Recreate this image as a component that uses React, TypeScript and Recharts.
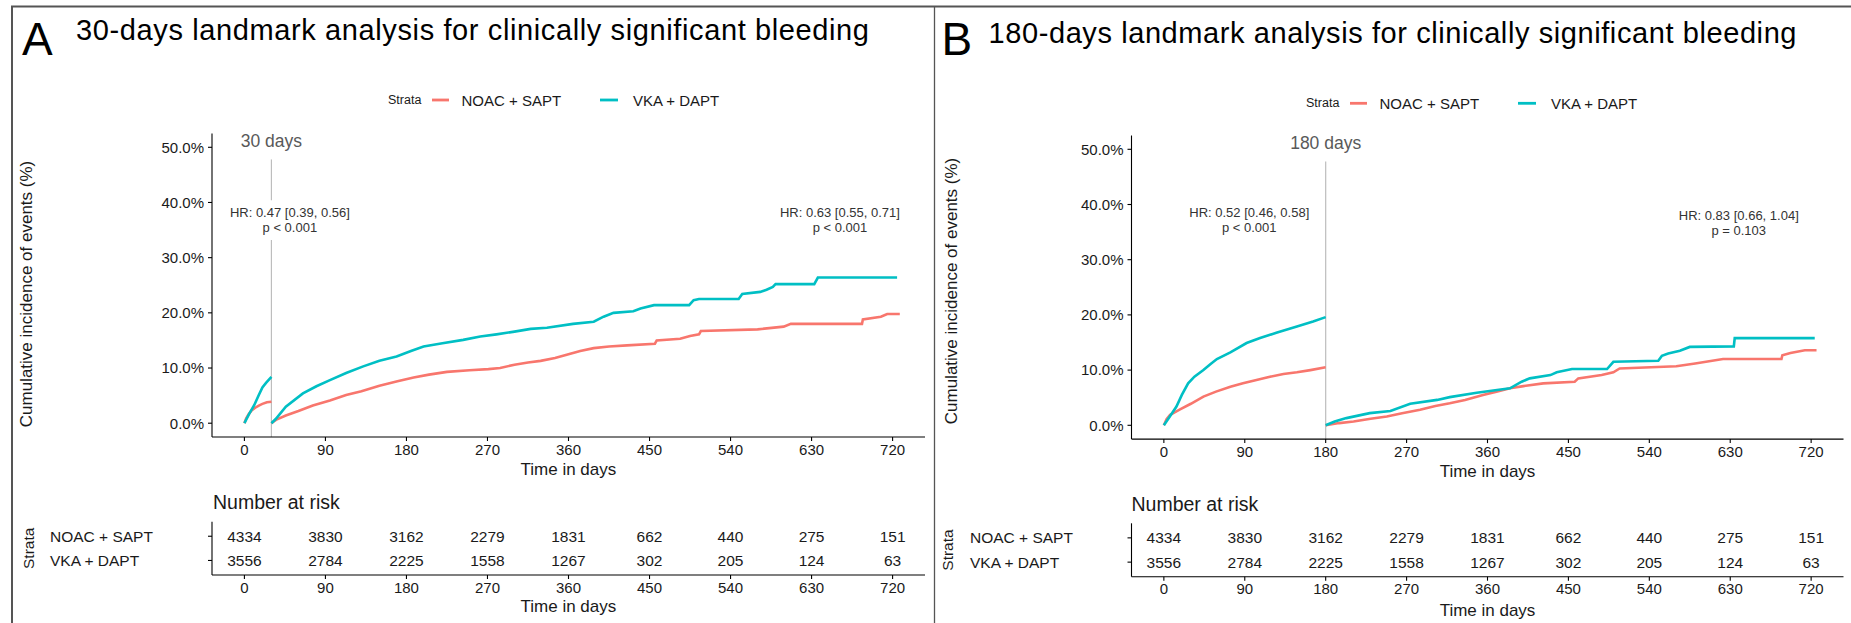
import React from "react";
import {
  LineChart,
  Line,
  XAxis,
  YAxis,
  ReferenceLine,
  ReferenceDot,
  ScatterChart,
  Scatter,
} from "recharts";

const FONT = '"Liberation Sans", Arial, Helvetica, sans-serif';
const RED = "#F8766D";
const CYAN = "#00BFC4";
const INK = "#1a1a1a";

const timeTicks = [0, 90, 180, 270, 360, 450, 540, 630, 720];
const pctTicks = [0, 10, 20, 30, 40, 50];
const strata = ["NOAC + SAPT", "VKA + DAPT"];

// number at risk (same table under both panels)
const riskNoac = [4334, 3830, 3162, 2279, 1831, 662, 440, 275, 151];
const riskVka = [3556, 2784, 2225, 1558, 1267, 302, 205, 124, 63];

// panel A: 30-day landmark, [day, cumulative incidence %]
const aNoacPre = [[0, 0], [2, 0.9], [5, 1.7], [8, 2.3], [12, 2.8], [16, 3.2], [20, 3.5], [25, 3.8], [30, 3.9]];
const aVkaPre = [[0, 0], [5, 1.6], [11, 3.3], [16, 5.1], [20, 6.5], [24, 7.3], [30, 8.4]];
const aNoacPost = [
  [30, 0], [35, 0.6], [46, 1.4], [60, 2.2], [76, 3.2], [95, 4.1], [113, 5.1], [130, 5.8], [150, 6.8],
  [170, 7.6], [188, 8.3], [205, 8.8], [225, 9.3], [250, 9.6], [271, 9.8], [284, 10.0], [300, 10.6],
  [315, 11.0], [329, 11.3], [345, 11.8], [358, 12.4], [373, 13.1], [388, 13.6], [405, 13.9], [425, 14.1],
  [456, 14.4], [458, 15.0], [484, 15.3], [495, 15.8], [505, 16.1], [507, 16.7], [570, 17.0], [599, 17.5],
  [607, 18.0], [686, 18.0], [687, 18.8], [707, 19.3], [714, 19.8], [728, 19.8],
];
const aVkaPost = [
  [30, 0], [35, 0.8], [46, 3.0], [65, 5.4], [80, 6.7], [95, 7.8], [113, 9.1], [132, 10.3], [150, 11.3],
  [169, 12.1], [185, 13.1], [199, 13.9], [220, 14.5], [243, 15.1], [262, 15.7], [280, 16.1], [300, 16.6],
  [318, 17.1], [336, 17.3], [365, 18.0], [388, 18.4], [399, 19.3], [410, 20.0], [432, 20.3], [440, 20.8],
  [455, 21.4], [494, 21.4], [499, 22.3], [505, 22.5], [549, 22.5], [553, 23.4], [573, 23.8], [580, 24.2],
  [587, 24.7], [590, 25.2], [633, 25.2], [637, 26.4], [725, 26.4],
];

// panel B: 180-day landmark
const bNoacPre = [
  [0, 0], [3, 1.1], [7, 1.9], [18, 2.9], [30, 3.9], [44, 5.2], [58, 6.1], [74, 7.0], [88, 7.6],
  [103, 8.2], [118, 8.8], [133, 9.3], [148, 9.6], [163, 10.0], [180, 10.5],
];
const bVkaPre = [
  [0, 0], [7, 1.7], [14, 3.4], [20, 5.5], [27, 7.6], [34, 8.8], [44, 10.0], [52, 11.1], [59, 12.0],
  [74, 13.2], [92, 14.9], [107, 15.8], [126, 16.8], [148, 17.9], [166, 18.8], [180, 19.6],
];
const bNoacPost = [
  [180, 0], [195, 0.4], [211, 0.7], [230, 1.2], [248, 1.6], [265, 2.2], [285, 2.8], [302, 3.5], [318, 4.0],
  [335, 4.6], [355, 5.5], [370, 6.1], [385, 6.7], [400, 7.1], [422, 7.6], [457, 7.9], [461, 8.5], [487, 9.1],
  [500, 9.6], [507, 10.3], [570, 10.7], [591, 11.2], [622, 12.0], [687, 12.0], [688, 12.7], [697, 13.1],
  [713, 13.6], [726, 13.6],
];
const bVkaPost = [
  [180, 0], [190, 0.7], [203, 1.3], [229, 2.2], [252, 2.6], [274, 3.9], [304, 4.6], [318, 5.1], [348, 5.9],
  [385, 6.7], [398, 7.9], [407, 8.5], [430, 9.1], [437, 9.6], [454, 10.2], [493, 10.2], [500, 11.5],
  [550, 11.7], [554, 12.6], [561, 13.0], [574, 13.5], [585, 14.2], [634, 14.3], [635, 15.8], [724, 15.8],
];

const toPts = (arr: number[][]) => arr.map(([t, p]) => ({ t, p }));

const axisProps = {
  axisLine: { stroke: "#000", strokeWidth: 1.1 },
  tickLine: { stroke: "#000", strokeWidth: 1.1 },
  tickSize: 4,
};

const hrShape = (lines: string[]) => (props: any) => (
  <g>
    <text x={props.cx} y={props.cy - 7.7} textAnchor="middle" dominantBaseline="central" fontSize={13} fill="#333">
      {lines[0]}
    </text>
    <text x={props.cx} y={props.cy + 7.7} textAnchor="middle" dominantBaseline="central" fontSize={13} fill="#333">
      {lines[1]}
    </text>
  </g>
);

const markShape = (label: string) => (props: any) => (
  <text x={props.cx} y={props.cy} textAnchor="middle" dominantBaseline="central" fontSize={17.5} fill="#595959">
    {label}
  </text>
);

interface KmProps {
  left: number;
  width: number;
  top: number;
  right: number;
  yWidth: number;
  xHeight: number;
  landmark: number;
  vSegments: number[][];
  pre: number[][][];
  post: number[][][];
  notes: { t: number; p: number; lines: string[] }[];
}

const KmPlot = ({ left, width, top, right, yWidth, xHeight, landmark, vSegments, pre, post, notes }: KmProps) => (
  <div style={{ position: "absolute", left, top: 0 }}>
    <LineChart width={width} height={490} margin={{ top, right, bottom: 0, left: 0 }}>
      <XAxis
        type="number"
        dataKey="t"
        domain={[-36, 756]}
        ticks={timeTicks}
        allowDataOverflow
        height={xHeight}
        tickMargin={3.5}
        tick={{ fontSize: 15, fill: INK }}
        {...axisProps}
      />
      <YAxis
        type="number"
        dataKey="p"
        domain={[-2.5, 52.5]}
        ticks={pctTicks}
        allowDataOverflow
        width={yWidth}
        tickMargin={4}
        tick={{ fontSize: 15, fill: INK }}
        tickFormatter={(v: number) => `${v.toFixed(1)}%`}
        {...axisProps}
      />
      {vSegments.map(([y0, y1], i) => (
        <ReferenceLine
          key={`seg${i}`}
          segment={[{ x: landmark, y: y0 }, { x: landmark, y: y1 }]}
          stroke="#bdbdbd"
          strokeWidth={1.2}
        />
      ))}
      <ReferenceDot x={landmark} y={51.2} r={0} shape={markShape(`${landmark} days`)} />
      {notes.map((n, i) => (
        <ReferenceDot key={`hr${i}`} x={n.t} y={n.p} r={0} shape={hrShape(n.lines)} />
      ))}
      {[pre, post].map((grp, g) =>
        grp.map((s, i) => (
          <Line
            key={`l${g}${i}`}
            data={toPts(s)}
            dataKey="p"
            type="linear"
            stroke={i === 0 ? RED : CYAN}
            strokeWidth={2.6}
            dot={false}
            isAnimationActive={false}
          />
        ))
      )}
    </LineChart>
  </div>
);

const rowTick = (props: any) => (
  <text x={50} y={props.y} dominantBaseline="central" fontSize={15.5} fill={INK}>
    {props.payload.value === 2 ? strata[0] : strata[1]}
  </text>
);

const numShape = (props: any) => (
  <text x={props.cx} y={props.cy} textAnchor="middle" dominantBaseline="central" fontSize={15.5} fill={INK}>
    {props.payload.n}
  </text>
);

const noacRows = timeTicks.map((t, i) => ({ t, row: 2, n: riskNoac[i] }));
const vkaRows = timeTicks.map((t, i) => ({ t, row: 1, n: riskVka[i] }));

const RiskTable = ({ left, width, top, right, yWidth, xHeight }: any) => (
  <div style={{ position: "absolute", left, top: 500 }}>
    <ScatterChart width={width} height={123} margin={{ top, right, bottom: 0, left: 0 }}>
      <XAxis
        type="number"
        dataKey="t"
        domain={[-36, 756]}
        ticks={timeTicks}
        allowDataOverflow
        height={xHeight}
        tickMargin={3}
        tick={{ fontSize: 15, fill: INK }}
        {...axisProps}
      />
      <YAxis
        type="number"
        dataKey="row"
        domain={[0.4, 2.6]}
        ticks={[1, 2]}
        width={yWidth}
        tick={rowTick}
        {...axisProps}
      />
      <Scatter data={noacRows} shape={numShape} isAnimationActive={false} />
      <Scatter data={vkaRows} shape={numShape} isAnimationActive={false} />
    </ScatterChart>
  </div>
);

const LegendRow = ({ x, y }: { x: number; y: number }) => (
  <g>
    <text x={x} y={y} dominantBaseline="central" fontSize={12.5} fill={INK}>Strata</text>
    <line x1={x + 44} x2={x + 61} y1={y} y2={y} stroke={RED} strokeWidth={2.8} />
    <text x={x + 73.5} y={y} dominantBaseline="central" fontSize={15} fill={INK}>{strata[0]}</text>
    <line x1={x + 212} x2={x + 230} y1={y} y2={y} stroke={CYAN} strokeWidth={2.8} />
    <text x={x + 245} y={y} dominantBaseline="central" fontSize={15} fill={INK}>{strata[1]}</text>
  </g>
);

const App = () => (
  <div
    style={{
      position: "absolute",
      left: 0,
      top: 0,
      width: 1851,
      height: 623,
      overflow: "hidden",
      background: "#fff",
      fontFamily: FONT,
    }}
  >
    <svg width={1851} height={623} style={{ position: "absolute", left: 0, top: 0 }}>
      <line x1={11} x2={1851} y1={6.5} y2={6.5} stroke="#555" strokeWidth={2} />
      <line x1={12} x2={12} y1={6} y2={623} stroke="#555" strokeWidth={2} />
      <line x1={934.5} x2={934.5} y1={6} y2={623} stroke="#555" strokeWidth={1.3} />

      <text x={22} y={55} fontSize={46} fill="#000">A</text>
      <text x={76} y={39.5} fontSize={29} fill="#000" textLength={793} lengthAdjust="spacing">
        30-days landmark analysis for clinically significant bleeding
      </text>
      <text x={941.5} y={55} fontSize={46} fill="#000">B</text>
      <text x={988.5} y={42.5} fontSize={29} fill="#000" textLength={808} lengthAdjust="spacing">
        180-days landmark analysis for clinically significant bleeding
      </text>

      <LegendRow x={388} y={100} />
      <LegendRow x={1306} y={103.3} />

      <text x={26} y={294} transform="rotate(-90 26 294)" textAnchor="middle" dominantBaseline="central" fontSize={17} fill={INK}>
        Cumulative incidence of events (%)
      </text>
      <text x={951} y={291} transform="rotate(-90 951 291)" textAnchor="middle" dominantBaseline="central" fontSize={17} fill={INK}>
        Cumulative incidence of events (%)
      </text>

      <text x={568.4} y={469.3} textAnchor="middle" dominantBaseline="central" fontSize={17} fill={INK}>Time in days</text>
      <text x={1487.5} y={471.7} textAnchor="middle" dominantBaseline="central" fontSize={17} fill={INK}>Time in days</text>
      <text x={568.4} y={606.7} textAnchor="middle" dominantBaseline="central" fontSize={17} fill={INK}>Time in days</text>
      <text x={1487.5} y={610} textAnchor="middle" dominantBaseline="central" fontSize={17} fill={INK}>Time in days</text>

      <text x={213} y={501.7} dominantBaseline="central" fontSize={19.5} fill={INK}>Number at risk</text>
      <text x={1131.5} y={504} dominantBaseline="central" fontSize={19.5} fill={INK}>Number at risk</text>

      <text x={29} y={548.3} transform="rotate(-90 29 548.3)" textAnchor="middle" dominantBaseline="central" fontSize={15.5} fill={INK}>Strata</text>
      <text x={947.6} y={550} transform="rotate(-90 947.6 550)" textAnchor="middle" dominantBaseline="central" fontSize={15.5} fill={INK}>Strata</text>
    </svg>

    <KmPlot
      left={0}
      width={940}
      top={133.5}
      right={15}
      yWidth={212}
      xHeight={53}
      landmark={30}
      vSegments={[[-2.5, 33.2], [40.4, 47.8]]}
      pre={[aNoacPre, aVkaPre]}
      post={[aNoacPost, aVkaPost]}
      notes={[
        { t: 50.5, p: 36.8, lines: ["HR: 0.47 [0.39, 0.56]", "p < 0.001"] },
        { t: 661.5, p: 36.8, lines: ["HR: 0.63 [0.55, 0.71]", "p < 0.001"] },
      ]}
    />
    <KmPlot
      left={920}
      width={931}
      top={135.5}
      right={7.5}
      yWidth={211.5}
      xHeight={50.9}
      landmark={180}
      vSegments={[[-2.5, 47.8]]}
      pre={[bNoacPre, bVkaPre]}
      post={[bNoacPost, bVkaPost]}
      notes={[
        { t: 95, p: 37.2, lines: ["HR: 0.52 [0.46, 0.58]", "p < 0.001"] },
        { t: 639.5, p: 36.6, lines: ["HR: 0.83 [0.66, 1.04]", "p = 0.103"] },
      ]}
    />
    <RiskTable left={0} width={940} top={21.7} right={15} yWidth={212} xHeight={48} />
    <RiskTable left={920} width={931} top={23.3} right={7.5} yWidth={211.5} xHeight={46.3} />
  </div>
);

export default App;
